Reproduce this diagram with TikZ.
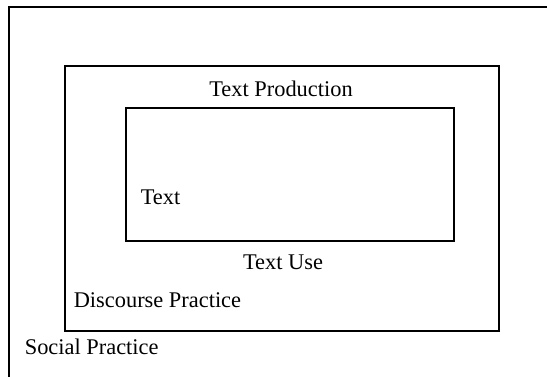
\documentclass[tikz,border=0pt]{standalone}
\usepackage{fontspec}
\setmainfont{Liberation Serif}
\begin{document}
\begin{tikzpicture}[x=0.5pt,y=-0.5pt,line width=0.8pt]
\tikzstyle{every node}+=[inner sep=0pt,font=\fontsize{11.2}{13}\selectfont]
\useasboundingbox (0,0) rectangle (547,376);
\clip (0,0) rectangle (547,376);
% boxes
\draw [black] (9,7) rectangle (560,390);
\draw [black] (65,66) rectangle (499,331);
\draw [black] (126,108) rectangle (454,241);
% labels
\node [anchor=base] (prod) at (281,96) {Text Production};
\node [anchor=base west] (text) at (140,204) {Text};
\node [anchor=base] (use) at (283,269) {Text Use};
\node [anchor=base west] (disc) at (73,307) {Discourse Practice};
\node [anchor=base west] (soc) at (24,354) {Social Practice};
\end{tikzpicture}
\end{document}
